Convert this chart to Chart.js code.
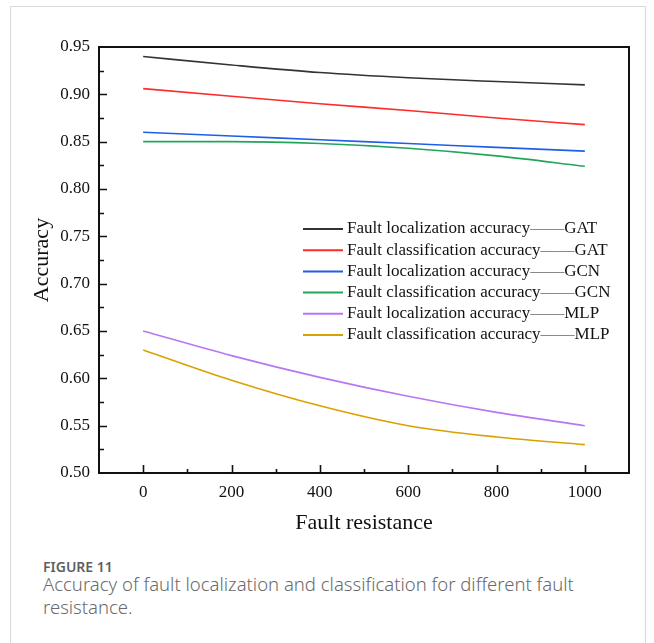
<!DOCTYPE html>
<html lang="en">
    <head>
        <meta charset="UTF-8" />
        <title>Fault resistance accuracy</title>
        <script src="https://cdn.jsdelivr.net/npm/chart.js@4.4.0/dist/chart.umd.min.js"></script>
        <style>
            body { margin: 0; background: #fff; }
            #frame { position: absolute; left: 10px; top: 6px; width: 634px; height: 660px; border: 1px solid #d9d9d9; }
            #chartBox { position: absolute; left: 0; top: 0; }
            #fig { position: absolute; left: 43px; top: 557px; font-family: "Noto Sans", sans-serif; font-size: 14px; font-weight: 600; color: #5f5f5f; }
            #cap { position: absolute; left: 43px; top: 572px; width: 560px; font-family: "Noto Sans", sans-serif; font-size: 18.5px; line-height: 23px; color: #6a6a6a; font-weight: 300; }
        </style>
    </head>
    <body>
        <div id="frame"></div>
        <div id="chartBox">
            <canvas id="accChart" width="654" height="540"></canvas>
        </div>
        <div id="fig">FIGURE 11</div>
        <div id="cap">Accuracy of fault localization and classification for different fault resistance.</div>
        <script>
            // values
            const resistance = [0, 200, 400, 600, 800, 1000];
            const gatLoc = [0.940, 0.931, 0.923, 0.9175, 0.9135, 0.910];
            const gatCls = [0.906, 0.898, 0.890, 0.883, 0.875, 0.868];
            const gcnLoc = [0.860, 0.856, 0.852, 0.848, 0.844, 0.840];
            const gcnCls = [0.850, 0.850, 0.848, 0.843, 0.835, 0.824];
            const mlpLoc = [0.650, 0.624, 0.601, 0.581, 0.564, 0.550];
            const mlpCls = [0.630, 0.598, 0.571, 0.550, 0.538, 0.530];
            const seriesNames = [
                'Fault localization accuracy——GAT',
                'Fault classification accuracy——GAT',
                'Fault localization accuracy——GCN',
                'Fault classification accuracy——GCN',
                'Fault localization accuracy——MLP',
                'Fault classification accuracy——MLP'
            ];
            const seriesColors = ['#333333', '#ff2a2a', '#1f5fe6', '#22a55a', '#b777f2', '#d9a100'];
            const allSeries = [gatLoc, gatCls, gcnLoc, gcnCls, mlpLoc, mlpCls];

            const serif = '"Liberation Serif", "Times New Roman", serif';

            const datasets = allSeries.map((vals, i) => ({
                label: seriesNames[i],
                data: resistance.map((x, j) => ({ x: x, y: vals[j] })),
                borderColor: seriesColors[i],
                backgroundColor: seriesColors[i],
                borderWidth: 1.6,
                pointRadius: 0,
                fill: false,
                cubicInterpolationMode: 'monotone'
            }));

            // frame box, inward ticks and legend inside the plot
            const framePlugin = {
                id: 'framePlugin',
                afterDraw(chart) {
                    const ctx = chart.ctx;
                    const a = chart.chartArea;
                    const xs = chart.scales.x, ys = chart.scales.y;
                    ctx.save();
                    ctx.strokeStyle = '#111';
                    ctx.lineWidth = 2;
                    ctx.strokeRect(a.left, a.top, a.right - a.left, a.bottom - a.top);
                    ctx.lineWidth = 1.6;
                    ctx.beginPath();
                    ys.ticks.forEach(t => {
                        const v = Math.round(t.value * 1000);
                        if (v <= 500 || v >= 950) return;
                        const y = Math.round(ys.getPixelForValue(t.value)) + 0.5;
                        const len = v % 50 === 0 ? 8 : 5;
                        ctx.moveTo(a.left, y);
                        ctx.lineTo(a.left + len, y);
                    });
                    xs.ticks.forEach(t => {
                        if (t.value <= -100 || t.value >= 1100) return;
                        const x = Math.round(xs.getPixelForValue(t.value)) + 0.5;
                        const len = t.value % 200 === 0 ? 8 : 4;
                        ctx.moveTo(x, a.bottom);
                        ctx.lineTo(x, a.bottom - len);
                    });
                    ctx.stroke();

                    // legend
                    const lx = a.left + 204;
                    let ly = a.top + 182;
                    ctx.font = '17px ' + serif;
                    ctx.textBaseline = 'middle';
                    chart.data.datasets.forEach(ds => {
                        ctx.strokeStyle = ds.borderColor;
                        ctx.lineWidth = 2;
                        ctx.beginPath();
                        ctx.moveTo(lx, ly);
                        ctx.lineTo(lx + 40, ly);
                        ctx.stroke();
                        const parts = ds.label.split('——');
                        let tx = lx + 44;
                        ctx.fillStyle = '#111';
                        ctx.fillText(parts[0], tx, ly);
                        tx += ctx.measureText(parts[0]).width;
                        ctx.fillStyle = '#777';
                        ctx.fillText('——', tx, ly);
                        tx += ctx.measureText('——').width;
                        ctx.fillStyle = '#111';
                        ctx.fillText(parts[1], tx, ly);
                        ly += 21.2;
                    });
                    ctx.restore();
                }
            };

            const ctx = document.getElementById('accChart').getContext('2d');
            const accChart = new Chart(ctx, {
                type: 'line',
                data: { datasets: datasets },
                options: {
                    responsive: false,
                    animation: false,
                    layout: { padding: { left: 0, top: 47, right: 25, bottom: 0 } },
                    plugins: {
                        legend: { display: false },
                        tooltip: { enabled: false }
                    },
                    scales: {
                        x: {
                            type: 'linear',
                            min: -100,
                            max: 1100,
                            grid: { display: false, drawTicks: false },
                            border: { display: false },
                            ticks: {
                                stepSize: 100,
                                autoSkip: false,
                                maxRotation: 0,
                                padding: 9,
                                color: '#111',
                                font: { family: serif, size: 17 },
                                callback: v => (v >= 0 && v <= 1000 && v % 200 === 0) ? String(v) : ''
                            },
                            title: {
                                display: true,
                                text: 'Fault resistance',
                                color: '#111',
                                font: { family: serif, size: 22 },
                                padding: { top: 4, bottom: 4 }
                            },
                            afterFit(scale) { scale.height = 67; }
                        },
                        y: {
                            min: 0.5,
                            max: 0.95,
                            grid: { display: false, drawTicks: false },
                            border: { display: false },
                            ticks: {
                                stepSize: 0.025,
                                autoSkip: false,
                                padding: 9,
                                color: '#111',
                                font: { family: serif, size: 17 },
                                callback: v => (Math.round(v * 1000) % 50 === 0) ? v.toFixed(2) : ''
                            },
                            title: {
                                display: true,
                                text: 'Accuracy',
                                color: '#111',
                                font: { family: serif, size: 22 },
                                padding: { top: 29, bottom: 0 }
                            },
                            afterFit(scale) { scale.width = 99; }
                        }
                    }
                },
                plugins: [framePlugin]
            });
        </script>
    </body>
</html>
